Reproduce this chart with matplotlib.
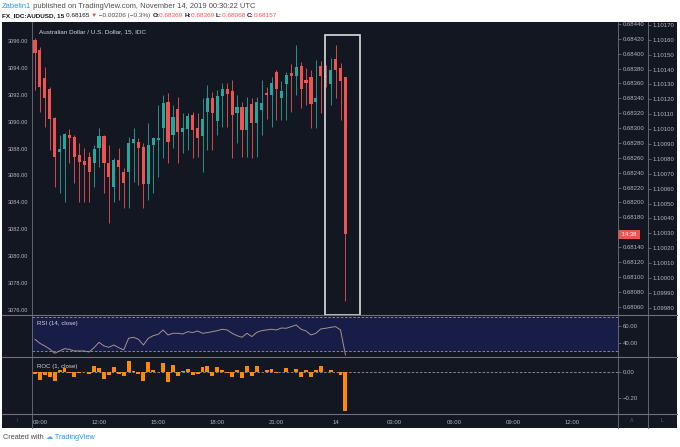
import matplotlib
matplotlib.use('Agg')
import matplotlib.pyplot as plt
import numpy as np
from matplotlib.patches import Rectangle
from matplotlib.lines import Line2D
import matplotlib.transforms as mtransforms

plt.rcParams['font.family'] = ['Liberation Sans', 'DejaVu Sans']

W, H = 680, 447

# ---------------- data (AUDUSD 15-min candles, 08:45 -> 00:30) ----------------
opens = [0.68418, 0.68405, 0.68367, 0.68353, 0.68314, 0.68268, 0.68272, 0.68291, 0.68288, 0.68264,
         0.68256, 0.68261, 0.68253, 0.68273, 0.68289, 0.68253, 0.68221, 0.68257, 0.68241, 0.68241,
         0.68280, 0.68281, 0.68275, 0.68225, 0.68277, 0.68284, 0.68300, 0.68335, 0.68291, 0.68326,
         0.68295, 0.68299, 0.68318, 0.68300, 0.68289, 0.68322, 0.68340, 0.68310, 0.68343, 0.68353,
         0.68350, 0.68320, 0.68328, 0.68297, 0.68332, 0.68307, 0.68324, 0.68347, 0.68345, 0.68375,
         0.68340, 0.68359, 0.68374, 0.68370, 0.68384, 0.68365, 0.68369, 0.68335, 0.68384, 0.68370,
         0.68359, 0.68393, 0.68381, 0.68369]
highs = [0.68421, 0.68409, 0.68382, 0.68355, 0.68315, 0.68291, 0.68293, 0.68299, 0.68291, 0.68280,
         0.68273, 0.68268, 0.68277, 0.68300, 0.68291, 0.68277, 0.68260, 0.68273, 0.68246, 0.68288,
         0.68300, 0.68287, 0.68280, 0.68307, 0.68288, 0.68331, 0.68345, 0.68347, 0.68331, 0.68342,
         0.68320, 0.68320, 0.68322, 0.68320, 0.68340, 0.68358, 0.68349, 0.68351, 0.68361, 0.68361,
         0.68365, 0.68345, 0.68335, 0.68342, 0.68340, 0.68342, 0.68365, 0.68355, 0.68369, 0.68378,
         0.68363, 0.68375, 0.68386, 0.68412, 0.68389, 0.68381, 0.68378, 0.68392, 0.68390, 0.68385,
         0.68394, 0.68412, 0.68388, 0.68369]
lows = [0.68351, 0.68322, 0.68301, 0.68271, 0.68221, 0.68213, 0.68201, 0.68253, 0.68226, 0.68201,
        0.68201, 0.68201, 0.68221, 0.68248, 0.68213, 0.68172, 0.68201, 0.68203, 0.68193, 0.68193,
        0.68228, 0.68223, 0.68193, 0.68203, 0.68213, 0.68234, 0.68260, 0.68253, 0.68273, 0.68253,
        0.68267, 0.68271, 0.68260, 0.68261, 0.68241, 0.68271, 0.68271, 0.68291, 0.68301, 0.68301,
        0.68260, 0.68280, 0.68261, 0.68261, 0.68260, 0.68261, 0.68291, 0.68312, 0.68301, 0.68311,
        0.68311, 0.68311, 0.68322, 0.68345, 0.68327, 0.68331, 0.68300, 0.68300, 0.68320, 0.68355,
        0.68331, 0.68340, 0.68311, 0.68068]
closes = [0.68401, 0.68355, 0.68340, 0.68312, 0.68261, 0.68272, 0.68292, 0.68287, 0.68261, 0.68254,
          0.68250, 0.68241, 0.68272, 0.68289, 0.68253, 0.68234, 0.68257, 0.68248, 0.68226, 0.68280,
          0.68285, 0.68273, 0.68225, 0.68277, 0.68287, 0.68287, 0.68334, 0.68281, 0.68315, 0.68295,
          0.68300, 0.68316, 0.68297, 0.68287, 0.68312, 0.68340, 0.68320, 0.68343, 0.68353, 0.68346,
          0.68318, 0.68328, 0.68297, 0.68328, 0.68307, 0.68335, 0.68334, 0.68345, 0.68361, 0.68353,
          0.68350, 0.68371, 0.68370, 0.68382, 0.68353, 0.68361, 0.68332, 0.68340, 0.68370, 0.68369,
          0.68378, 0.68378, 0.68363, 0.68157]

rsi = [44.3, 39.6, 36.5, 32.9, 27.9, 30.6, 33.3, 32.5, 30.6, 30.6, 30.6, 29.4, 34.5, 40.8, 36.5,
       34.9, 37.6, 34.5, 31.8, 45.5, 46.7, 44.3, 37.6, 45.5, 48.6, 50.2, 55.3, 49.4, 51.4, 51.4,
       50.6, 53.3, 52.2, 54.1, 51.4, 52.2, 53.3, 54.5, 56.1, 55.3, 51.4, 48.6, 46.7, 51.4, 47.5,
       52.5, 54.5, 55.3, 56.1, 55.3, 57.6, 57.3, 59.2, 61.2, 56.1, 54.1, 49.4, 51.4, 56.5, 57.3,
       58.4, 59.2, 55.3, 25.9]

roc = [-0.020, -0.067, -0.022, -0.041, -0.075, 0.016, 0.030, -0.008, -0.037, -0.010, -0.006, -0.014,
       0.045, 0.026, -0.053, -0.028, 0.033, -0.014, -0.032, 0.079, 0.008, -0.018, -0.071, 0.077,
       0.014, 0.000, 0.069, -0.077, 0.049, -0.030, 0.008, 0.024, -0.028, -0.016, 0.037, 0.041,
       -0.030, 0.033, 0.014, -0.010, -0.041, 0.016, -0.045, 0.045, -0.032, 0.041, -0.002, 0.016,
       0.024, -0.012, -0.004, 0.032, -0.002, 0.018, -0.043, 0.012, -0.041, 0.012, 0.043, -0.002,
       0.014, 0.000, -0.022, -0.300]

time_tick_pos = [1, 13, 25, 37, 49, 61, 73, 85, 97, 109]
time_tick_labels = ['09:00', '12:00', '15:00', '18:00', '21:00', '14', '03:00', '06:00', '09:00', '12:00']

# 0.68160 is hidden behind the countdown tag in the reference
price_ticks = [0.68060 + 0.0002 * i for i in range(20) if i != 5]
alt_ticks = [1.09980 + 0.0001 * i for i in range(20)]
left_ticks = [3076 + 2 * i for i in range(11)]

# ---------------- style ----------------
BG = '#131722'
UP = '#26a69a'
DN = '#ef5350'
TXT = '#b2b5be'
SEP = '#6f727c'

fig = plt.figure(figsize=(W / 100, H / 100), dpi=100, facecolor='white')


def px(x0, y0, x1, y1):
    return [x0 / W, 1 - y1 / H, (x1 - x0) / W, (y1 - y0) / H]


def fline(x0, y0, x1, y1, **kw):
    fig.add_artist(Line2D([x0 / W, x1 / W], [1 - y0 / H, 1 - y1 / H], transform=fig.transFigure, **kw))


fig.add_artist(Rectangle((2 / W, 1 - 428 / H), 675 / W, 406 / H, transform=fig.transFigure,
                         facecolor=BG, edgecolor='none', zorder=0))

x = np.arange(len(closes))
o = np.array(opens); c = np.array(closes); hi = np.array(highs); lo = np.array(lows)
colors = [UP if cc >= oo else DN for oo, cc in zip(o, c)]
XLIM = (-0.6, 118.3)

# ---------------- main pane ----------------
ax = fig.add_axes(px(32, 22, 618, 315))
ax.set_facecolor('none')
ax.set_xlim(*XLIM)
ax.set_ylim(0.680486, 0.684427)
ax.vlines(x, lo, hi, colors=colors, lw=0.6, zorder=2)
body_bot = np.minimum(o, c)
body_h = np.maximum(np.abs(c - o), 0.000014)
ax.bar(x, body_h, bottom=body_bot, width=0.64, color=colors, lw=0, zorder=3)
for s in ax.spines.values():
    s.set_visible(False)
ax.set_xticks([])
ax.yaxis.tick_right()
ax.set_yticks(price_ticks)
ax.set_yticklabels([f'{v:.5f}' for v in price_ticks])
ax.tick_params(axis='y', direction='out', length=2, width=0.5, colors='#787b86',
               labelcolor=TXT, labelsize=4.3, pad=1.5)
# highlight box
ax.add_patch(Rectangle((58.9, 0.680486), 7.0, 0.684256 - 0.680486, fill=False,
                       edgecolor='#dcdcdc', lw=1.2, zorder=5, clip_on=False))
ax.text(0.012, 0.975, 'Australian Dollar / U.S. Dollar, 15, IDC', transform=ax.transAxes,
        color='#d1d4dc', fontsize=4.6, va='top', ha='left')
# countdown tag at the last close
blend = mtransforms.blended_transform_factory(ax.transAxes, ax.transData)
ax.text(1.003, closes[-1], ' 14:38 ', transform=blend, color='white', fontsize=4.2,
        va='center', ha='left', zorder=10, clip_on=False,
        bbox=dict(boxstyle='square,pad=0.3', facecolor=DN, edgecolor='none'))

# left axis (other instrument scale)
axl = fig.add_axes(px(32, 22, 618, 315))
axl.set_facecolor('none')
axl.set_ylim(3075.59, 3097.44)
axl.set_xticks([])
axl.set_yticks(left_ticks)
axl.set_yticklabels([f'{v:.2f}' for v in left_ticks])
axl.tick_params(axis='y', length=0, labelcolor=TXT, labelsize=4.1, pad=3)
for s in axl.spines.values():
    s.set_visible(False)

# second right axis
axr = fig.add_axes(px(32, 22, 648, 315))
axr.set_facecolor('none')
axr.set_ylim(1.099751, 1.10172)
axr.set_xticks([])
axr.yaxis.tick_right()
axr.set_yticks(alt_ticks)
axr.set_yticklabels([f'{v:.5f}' for v in alt_ticks])
axr.tick_params(axis='y', direction='out', length=2, width=0.5, colors='#787b86',
                labelcolor=TXT, labelsize=4.3, pad=1.5)
for s in axr.spines.values():
    s.set_visible(False)

# ---------------- RSI pane ----------------
ar = fig.add_axes(px(32, 315, 618, 357))
ar.set_facecolor('none')
ar.set_xlim(*XLIM)
ar.set_ylim(23.5, 72.9)
ar.axhspan(30, 70, color='#181d47', lw=0, zorder=0)
for lvl in (30, 70):
    ar.axhline(lvl, color='#9598a1', lw=0.6, ls=(0, (3, 2)), zorder=1)
ar.plot(x, rsi, color='#a3948b', lw=0.7, zorder=2)
for s in ar.spines.values():
    s.set_visible(False)
ar.set_xticks([])
ar.yaxis.tick_right()
ar.set_yticks([40, 60])
ar.set_yticklabels(['40.00', '60.00'])
ar.tick_params(axis='y', direction='out', length=2, width=0.5, colors='#787b86',
               labelcolor=TXT, labelsize=4.3, pad=1.5)
ar.text(0.009, 0.86, 'RSI (14, close)', transform=ar.transAxes, color='#d1d4dc',
        fontsize=4.4, va='top', ha='left')

# ---------------- ROC pane ----------------
ac = fig.add_axes(px(32, 357, 618, 414))
ac.set_facecolor('none')
ac.set_xlim(*XLIM)
ac.set_ylim(-0.325, 0.113)
ac.axhline(0, color='#9598a1', lw=0.6, ls=(0, (3, 2)), zorder=1)
ac.bar(x, roc, width=0.8, color='#ff8a00', lw=0, zorder=2)
for s in ac.spines.values():
    s.set_visible(False)
ac.yaxis.tick_right()
ac.set_yticks([0.0, -0.2])
ac.set_yticklabels(['0.00', '\u22120.20'])
ac.tick_params(axis='y', direction='out', length=2, width=0.5, colors='#787b86',
               labelcolor=TXT, labelsize=4.3, pad=1.5)
ac.set_xticks(time_tick_pos)
ac.set_xticklabels(time_tick_labels)
ac.tick_params(axis='x', length=0, labelcolor=TXT, labelsize=4.3, pad=4.2)
ac.text(0.009, 0.88, 'ROC (1, close)', transform=ac.transAxes, color='#d1d4dc',
        fontsize=4.4, va='top', ha='left')

# ---------------- separators ----------------
for yy in (315, 357, 414):
    fline(2, yy, 677, yy, color=SEP, lw=0.8, zorder=6)
for xx in (32, 618, 648):
    fline(xx, 22, xx, 428, color=SEP, lw=0.6, zorder=6)
fig.text(17 / W, 1 - 421 / H, '\u2195', color='#5d606b', fontsize=4, ha='center', va='center')
fig.text(632 / W, 1 - 421 / H, 'A', color='#5d606b', fontsize=3.8, ha='center', va='center')
fig.text(662 / W, 1 - 421 / H, 'L', color='#5d606b', fontsize=3.8, ha='center', va='center')

# ---------------- header / footer ----------------
fig.canvas.draw()
rend = fig.canvas.get_renderer()


def seq_text(x0, y, parts, size):
    xx = x0
    for s, col, wt in parts:
        t = fig.text(xx / W, 1 - y / H, s, color=col, fontsize=size, fontweight=wt,
                     va='center', ha='left')
        xx += t.get_window_extent(renderer=rend).width


seq_text(2, 6, [('Zabelin1', '#2196f3', 'normal'),
                (' published on TradingView.com, November 14, 2019 00:30:22 UTC', '#4a4a4a', 'normal')], 5.4)
seq_text(2, 15.5, [('FX_IDC:AUDUSD, 15 ', '#131722', 'bold'),
                   ('0.68165 ', '#131722', 'normal'),
                   ('\u25bc', DN, 'normal'),
                   (' \u22120.00206 (\u22120.3%) ', '#4a4a4a', 'normal'),
                   ('O:', '#131722', 'bold'), ('0.68369 ', DN, 'normal'),
                   ('H:', '#131722', 'bold'), ('0.68369 ', DN, 'normal'),
                   ('L:', '#131722', 'bold'), ('0.68068 ', DN, 'normal'),
                   ('C:', '#131722', 'bold'), ('0.68157', DN, 'normal')], 4.6)
seq_text(3, 437.5, [('Created with ', '#4a4a4a', 'normal'),
                    ('\u2601', '#5aa9e6', 'normal'),
                    (' TradingView', '#2196f3', 'normal')], 5.2)

fig.savefig('out.png', dpi=100, facecolor='white')
